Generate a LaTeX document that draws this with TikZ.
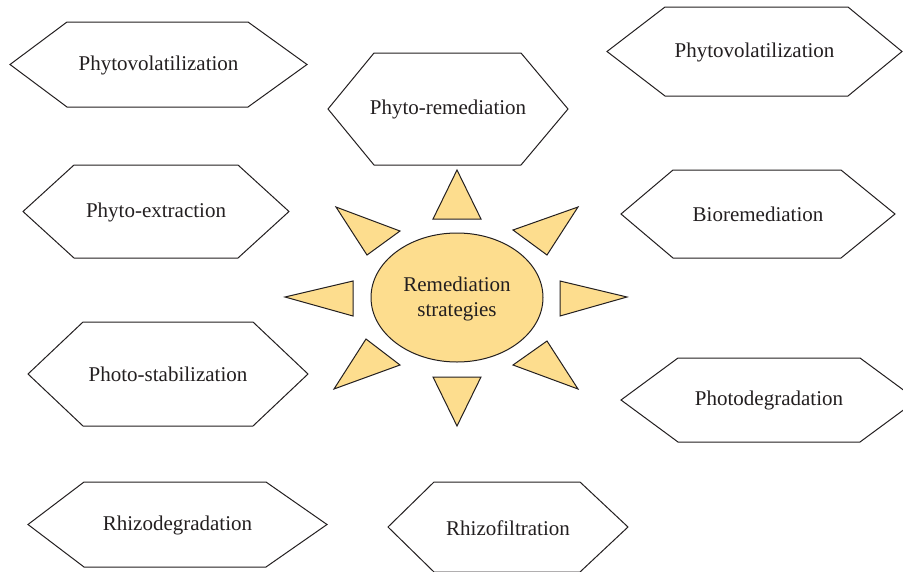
\documentclass[tikz,border=0pt]{standalone}
\usepackage{fontspec}
\setmainfont{Liberation Serif}
\definecolor{sunfill}{RGB}{253,221,142}
\definecolor{edge}{RGB}{35,31,32}
\definecolor{txt}{RGB}{35,31,32}
\tikzset{
  hexline/.style={draw=edge, line width=1pt, line join=miter, fill=white},
  hexlabel/.style={text=txt, font=\fontsize{21}{24}\selectfont, inner sep=0pt},
  ray/.style={draw=edge, line width=1pt, fill=sunfill, line join=miter},
}
% #1 name, #2 left, #3 innerL, #4 innerR, #5 right, #6 top, #7 bottom, #8 text
\newcommand\hexbox[8]{%
  \draw[hexline] (#2,{(#6+#7)/2}) -- (#3,#6) -- (#4,#6) -- (#5,{(#6+#7)/2}) -- (#4,#7) -- (#3,#7) -- cycle;
  \node[hexlabel] (#1) at ({(#2+#5)/2},{(#6+#7)/2+0.8}) {#8};%
}
\begin{document}
\begin{tikzpicture}[x=1pt,y=-1pt]
\useasboundingbox (0,0) rectangle (903,571);
\hexbox{pvA}{10}{67}{248}{307}{22}{107}{Phytovolatilization}
\hexbox{pvB}{607}{665}{848}{902}{7}{96}{Phytovolatilization}
\hexbox{prem}{328}{374}{521}{568}{53}{165}{Phyto-remediation}
\hexbox{pext}{23}{74}{238}{289}{165}{258}{Phyto-extraction}
\hexbox{bio}{621}{673}{841}{895}{170}{258}{Bioremediation}
\hexbox{pstab}{28}{83}{253}{308}{322}{426}{Photo-stabilization}
\hexbox{pdeg}{621}{678}{860}{917}{358}{442}{Photodegradation}
\hexbox{rdeg}{28}{84}{266}{327}{482}{567}{Rhizodegradation}
\hexbox{rfil}{388}{434}{580}{628}{482}{572}{Rhizofiltration}
% sun
\draw[ray] (457,170) -- (481,219) -- (433,219) -- cycle;
\draw[ray] (457,426) -- (481,377) -- (433,377) -- cycle;
\draw[ray] (285,297) -- (353,281) -- (353,316) -- cycle;
\draw[ray] (627,297) -- (560,281) -- (560,316) -- cycle;
\draw[ray] (336,207) -- (400,231) -- (367,255) -- cycle;
\draw[ray] (578,207) -- (513,230) -- (547,255) -- cycle;
\draw[ray] (366,339) -- (400,365) -- (334,389) -- cycle;
\draw[ray] (547,341) -- (513,365) -- (578,389) -- cycle;
\draw[ray] (457,297.5) ellipse [x radius=86, y radius=64.5];
\node[hexlabel, align=center, font=\fontsize{21}{25}\selectfont] (core) at (457,298.5) {Remediation\\strategies};
\end{tikzpicture}
\end{document}
